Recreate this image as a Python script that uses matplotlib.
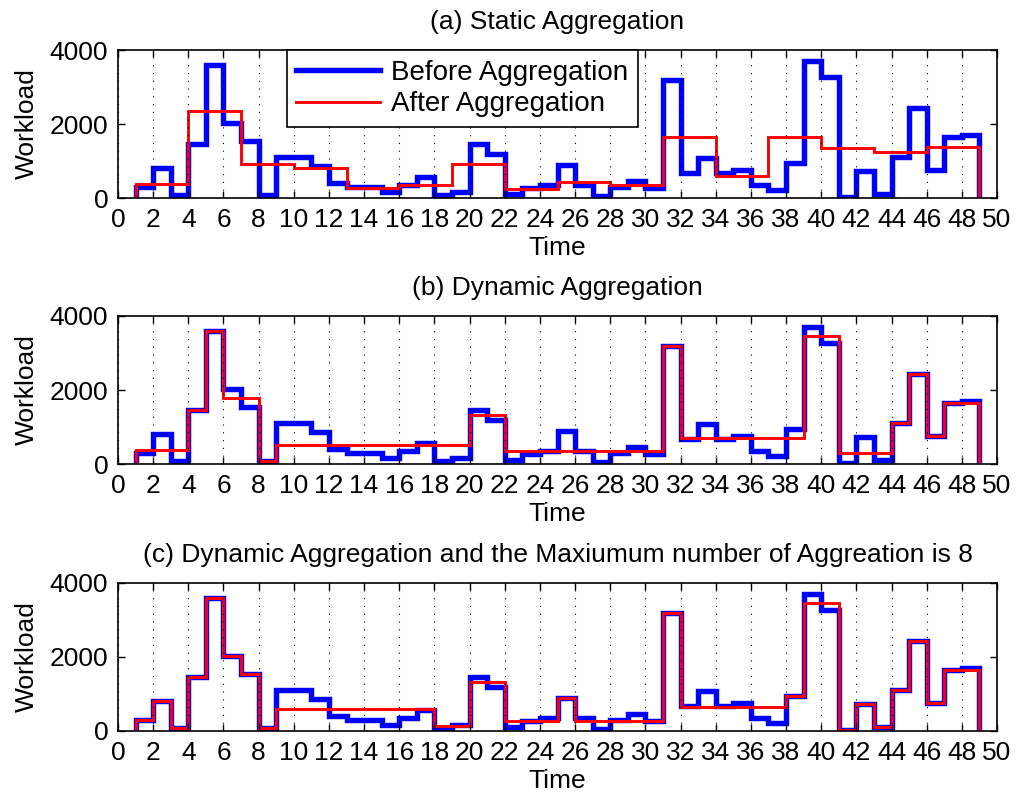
import numpy as np
import matplotlib
matplotlib.use("Agg")
import matplotlib.pyplot as plt

# workload per time slot, slot i spans [i, i+1), i = 1..48
before = [300, 800, 70, 1450, 3600, 2030, 1550, 70, 1120, 1100,
          855, 410, 300, 290, 150, 364, 580, 90, 150, 1450,
          1200, 120, 270, 350, 900, 350, 50, 290, 450, 270,
          3180, 680, 1090, 670, 760, 345, 220, 955, 3710, 3270,
          40, 730, 110, 1110, 2440, 745, 1636, 1700]

# (a) static aggregation, groups of 3 slots
static_edges = [1, 4, 7, 10, 13, 16, 19, 22, 25, 28, 31, 34, 37, 40, 43, 46, 49]
static_vals = [390, 2360, 910, 820, 270, 345, 930, 250, 430, 350,
               1650, 600, 1640, 1360, 1240, 1380]

# (b) dynamic aggregation
dyn_edges = [1, 4, 5, 6, 8, 9, 20, 22, 31, 32, 39, 41, 44, 45, 46, 47, 49]
dyn_vals = [380, 1450, 3600, 1790, 70, 515, 1325, 345, 3180, 690,
            3470, 290, 1110, 2440, 745, 1660]

# (c) dynamic aggregation, max 8 slots per group
max8_edges = [1, 2, 3, 4, 5, 6, 7, 8, 9, 18, 20, 22, 25, 26, 31, 32,
              38, 39, 41, 42, 43, 44, 45, 46, 47, 49]
max8_vals = [300, 800, 70, 1450, 3600, 2030, 1550, 70, 600, 135,
             1325, 270, 900, 280, 3180, 640, 955, 3470, 40, 730,
             120, 1110, 2440, 745, 1660]

titles = ["(a) Static Aggregation",
          "(b) Dynamic Aggregation",
          "(c) Dynamic Aggregation and the Maxiumum number of Aggreation is 8"]

plt.rcParams['font.family'] = ['Liberation Sans', 'DejaVu Sans']
fs = 19

fig = plt.figure(figsize=(10.17, 8.01), dpi=100)
tops = [50, 316, 583]
slot_edges = np.arange(1, 50)
after = [(static_edges, static_vals), (dyn_edges, dyn_vals), (max8_edges, max8_vals)]

for k in range(3):
    top = tops[k]
    ax = fig.add_axes([118 / 1017, 1 - (top + 148) / 801, 879 / 1017, 148 / 801])
    ax.stairs(before, slot_edges, baseline=0, color=(0, 0, 1), linewidth=3.9)
    ax.stairs(after[k][1], after[k][0], baseline=0, color=(1, 0, 0), linewidth=2.1)
    ax.set_xlim(0, 50)
    ax.set_ylim(0, 4000)
    ax.set_xticks(np.arange(0, 51, 2))
    ax.set_yticks([0, 2000, 4000])
    ax.tick_params(direction='in', top=True, right=True, length=5, width=1,
                   labelsize=fs, pad=7)
    ax.grid(axis='x', color='black', linestyle=(0, (1, 6)), linewidth=0.8)
    for s in ax.spines.values():
        s.set_linewidth(1.2)
    ax.set_title(titles[k], fontsize=fs, pad=15)
    ax.set_xlabel('Time', fontsize=fs, labelpad=3)
    ax.set_ylabel('Workload', fontsize=fs, labelpad=8)
    if k == 0:
        blue_h = plt.Line2D([], [], color=(0, 0, 1), linewidth=3.9)
        red_h = plt.Line2D([], [], color=(1, 0, 0), linewidth=2.1)
        leg = ax.legend([blue_h, red_h], ['Before Aggregation', 'After Aggregation'],
                        loc='upper left', bbox_to_anchor=(0.192, 1.0), borderaxespad=0,
                        fontsize=20, fancybox=False, edgecolor='black', framealpha=1,
                        handlelength=3.0, borderpad=0.35, labelspacing=0.2,
                        handletextpad=0.4)
        leg.get_frame().set_linewidth(1.2)

fig.savefig('out.png', dpi=100)
